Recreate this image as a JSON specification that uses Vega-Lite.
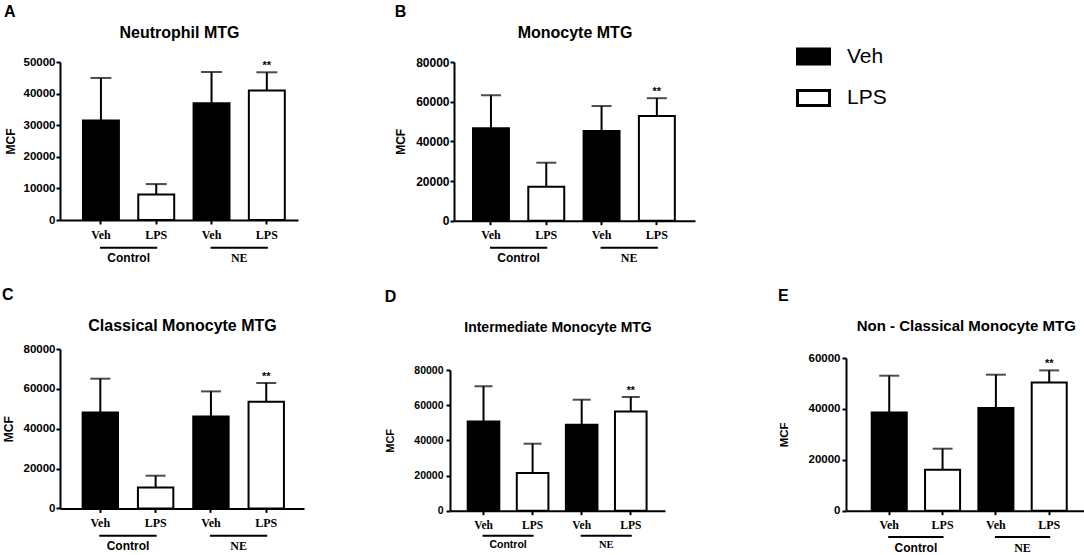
{
"$schema": "https://vega.github.io/schema/vega-lite/v6.json",
"background": "white",
"padding": {"left": 2, "top": 4, "right": 0, "bottom": 0},
"spacing": 23,
"resolve": {"scale": {"fill": "independent"}, "legend": {"fill": "independent"}},
"config": {"view": {"stroke": null}, "axis": {"grid": false}, "axisY": {"labelOverlap": false, "labelFlush": false, "labelBound": false}, "font": "Liberation Sans"},
"vconcat": [
{"hconcat": [
{
 "width": 238, "height": 158,
 "title": {"text": "A", "anchor": "start", "frame": "bounds", "font": "Liberation Sans", "fontSize": 16, "fontWeight": "bold", "color": "black", "offset": 4},
 "data": {"values": [
  {"cond": "Veh_C", "treat": "Veh", "group": "Control", "pair": "LPS_C", "mean": 31500, "upper": 44950, "sig": ""},
  {"cond": "LPS_C", "treat": "LPS", "group": "Control", "pair": "", "mean": 8100, "upper": 11370, "sig": ""},
  {"cond": "Veh_NE", "treat": "Veh", "group": "NE", "pair": "LPS_NE", "mean": 36950, "upper": 46840, "sig": ""},
  {"cond": "LPS_NE", "treat": "LPS", "group": "NE", "pair": "", "mean": 40960, "upper": 46740, "sig": "**"}
 ]},
 "layer": [
  {
   "encoding": {
    "x": {"field": "cond", "type": "nominal", "scale": {"domain": ["Veh_C", "LPS_C", "Veh_NE", "LPS_NE"], "paddingInner": 0.35, "paddingOuter": 0.327, "align": 0.635},
      "axis": {"title": null, "labelExpr": "split(datum.value, '_')[0]", "labelAngle": 0, "labelFont": "Liberation Serif", "labelFontWeight": "bold", "labelFontSize": 12, "labelColor": "black", "labelPadding": 5, "tickSize": 4, "tickWidth": 2, "tickColor": "black", "domainColor": "black", "domainWidth": 2}},
    "y": {"field": "mean", "type": "quantitative", "scale": {"domain": [0, 50000], "nice": false},
      "axis": {"title": "MCF", "values": [0, 10000, 20000, 30000, 40000, 50000], "format": "d", "titleFont": "Liberation Sans", "titleFontSize": 12, "titleFontWeight": "bold", "titleColor": "black", "titlePadding": 6, "labelFont": "Liberation Sans", "labelFontSize": 11.5, "labelFontWeight": "bold", "labelColor": "black", "labelPadding": 1, "tickSize": 4, "tickWidth": 2, "tickColor": "black", "domainColor": "black", "domainWidth": 2}}
   },
   "layer": [
    {"mark": {"type": "rule", "color": "black", "strokeWidth": 2}, "encoding": {"y2": {"field": "upper"}}},
    {"mark": {"type": "bar", "stroke": "black", "strokeWidth": 2}, "encoding": {"fill": {"field": "treat", "type": "nominal", "scale": {"domain": ["Veh", "LPS"], "range": ["black", "white"]}, "legend": null}}},
    {"mark": {"type": "tick", "color": "black", "thickness": 2, "size": 21}, "encoding": {"y": {"field": "upper", "type": "quantitative", "scale": {"domain": [0, 50000], "nice": false},
      "axis": {"title": "MCF", "values": [0, 10000, 20000, 30000, 40000, 50000], "format": "d", "titleFont": "Liberation Sans", "titleFontSize": 12, "titleFontWeight": "bold", "titleColor": "black", "titlePadding": 6, "labelFont": "Liberation Sans", "labelFontSize": 11.5, "labelFontWeight": "bold", "labelColor": "black", "labelPadding": 1, "tickSize": 4, "tickWidth": 2, "tickColor": "black", "domainColor": "black", "domainWidth": 2}}}},
    {"mark": {"type": "text", "font": "Liberation Sans", "fontWeight": "bold", "fontSize": 11, "baseline": "alphabetic", "dy": -3, "color": "black"}, "encoding": {"text": {"field": "sig"}, "y": {"field": "upper", "type": "quantitative", "scale": {"domain": [0, 50000], "nice": false},
      "axis": {"title": "MCF", "values": [0, 10000, 20000, 30000, 40000, 50000], "format": "d", "titleFont": "Liberation Sans", "titleFontSize": 12, "titleFontWeight": "bold", "titleColor": "black", "titlePadding": 6, "labelFont": "Liberation Sans", "labelFontSize": 11.5, "labelFontWeight": "bold", "labelColor": "black", "labelPadding": 1, "tickSize": 4, "tickWidth": 2, "tickColor": "black", "domainColor": "black", "domainWidth": 2}}}},
    {"transform": [{"filter": "datum.treat == 'Veh'"}], "mark": {"type": "rule", "color": "black", "strokeWidth": 2, "strokeCap": "square"}, "encoding": {"x2": {"field": "pair"}, "y": {"datum": -8750, "type": "quantitative", "scale": {"domain": [0, 50000], "nice": false},
      "axis": {"title": "MCF", "values": [0, 10000, 20000, 30000, 40000, 50000], "format": "d", "titleFont": "Liberation Sans", "titleFontSize": 12, "titleFontWeight": "bold", "titleColor": "black", "titlePadding": 6, "labelFont": "Liberation Sans", "labelFontSize": 11.5, "labelFontWeight": "bold", "labelColor": "black", "labelPadding": 1, "tickSize": 4, "tickWidth": 2, "tickColor": "black", "domainColor": "black", "domainWidth": 2}}}}
   ]
  },
  {
   "transform": [{"filter": "datum.treat == 'Veh'"}],
   "encoding": {
    "x": {"field": "group", "type": "nominal", "scale": {"type": "point", "domain": ["Control", "NE"], "padding": 0.576, "align": 0.539},
      "axis": {"orient": "top", "title": "Neutrophil MTG", "labels": false, "ticks": false, "domain": false, "titleFont": "Liberation Sans", "titleFontSize": 16, "titleFontWeight": "bold", "titleColor": "black", "titlePadding": 22, "minExtent": 0}},
    "y": {"datum": -11910, "type": "quantitative", "scale": {"domain": [0, 50000], "nice": false},
      "axis": {"title": "MCF", "values": [0, 10000, 20000, 30000, 40000, 50000], "format": "d", "titleFont": "Liberation Sans", "titleFontSize": 12, "titleFontWeight": "bold", "titleColor": "black", "titlePadding": 6, "labelFont": "Liberation Sans", "labelFontSize": 11.5, "labelFontWeight": "bold", "labelColor": "black", "labelPadding": 1, "tickSize": 4, "tickWidth": 2, "tickColor": "black", "domainColor": "black", "domainWidth": 2}},
    "text": {"field": "group"}
   },
   "layer": [
    {"transform": [{"filter": "datum.group == 'Control'"}], "mark": {"type": "text", "font": "Liberation Sans", "fontWeight": "bold", "fontSize": 12, "color": "black", "baseline": "middle"}},
    {"transform": [{"filter": "datum.group == 'NE'"}], "mark": {"type": "text", "font": "Liberation Serif", "fontWeight": "bold", "fontSize": 12, "color": "black", "baseline": "middle"}}
   ]
  }
 ],
 "resolve": {"scale": {"x": "independent"}}
},
{
 "width": 241, "height": 158.7,
 "title": {"text": "B", "anchor": "start", "frame": "bounds", "font": "Liberation Sans", "fontSize": 16, "fontWeight": "bold", "color": "black", "offset": 4},
 "data": {"values": [
  {"cond": "Veh_C", "treat": "Veh", "group": "Control", "pair": "LPS_C", "mean": 46580, "upper": 63200, "sig": ""},
  {"cond": "LPS_C", "treat": "LPS", "group": "Control", "pair": "", "mean": 17140, "upper": 29240, "sig": ""},
  {"cond": "Veh_NE", "treat": "Veh", "group": "NE", "pair": "LPS_NE", "mean": 45200, "upper": 57800, "sig": ""},
  {"cond": "LPS_NE", "treat": "LPS", "group": "NE", "pair": "", "mean": 52780, "upper": 61760, "sig": "**"}
 ]},
 "layer": [
  {
   "encoding": {
    "x": {"field": "cond", "type": "nominal", "scale": {"domain": ["Veh_C", "LPS_C", "Veh_NE", "LPS_NE"], "paddingInner": 0.35, "paddingOuter": 0.354, "align": 0.485},
      "axis": {"title": null, "labelExpr": "split(datum.value, '_')[0]", "labelAngle": 0, "labelFont": "Liberation Serif", "labelFontWeight": "bold", "labelFontSize": 12, "labelColor": "black", "labelPadding": 5, "tickSize": 4, "tickWidth": 2, "tickColor": "black", "domainColor": "black", "domainWidth": 2}},
    "y": {"field": "mean", "type": "quantitative", "scale": {"domain": [0, 80000], "nice": false},
      "axis": {"title": "MCF", "values": [0, 20000, 40000, 60000, 80000], "format": "d", "titleFont": "Liberation Sans", "titleFontSize": 12, "titleFontWeight": "bold", "titleColor": "black", "titlePadding": 8, "labelFont": "Liberation Sans", "labelFontSize": 12, "labelFontWeight": "bold", "labelColor": "black", "labelPadding": 1, "tickSize": 4, "tickWidth": 2, "tickColor": "black", "domainColor": "black", "domainWidth": 2}}
   },
   "layer": [
    {"mark": {"type": "rule", "color": "black", "strokeWidth": 2}, "encoding": {"y2": {"field": "upper"}}},
    {"mark": {"type": "bar", "stroke": "black", "strokeWidth": 2}, "encoding": {"fill": {"field": "treat", "type": "nominal", "scale": {"domain": ["Veh", "LPS"], "range": ["black", "white"]},
      "legend": {"orient": "none", "legendX": 342, "legendY": -23, "title": null, "symbolType": "M-1,-0.47H1V0.47H-1Z", "symbolSize": 1024, "symbolStrokeColor": "black", "symbolStrokeWidth": 3, "labelFont": "Liberation Sans", "labelFontSize": 21, "labelColor": "black", "labelOffset": 16, "rowPadding": 9.5}}}},
    {"mark": {"type": "tick", "color": "black", "thickness": 2, "size": 20}, "encoding": {"y": {"field": "upper", "type": "quantitative", "scale": {"domain": [0, 80000], "nice": false},
      "axis": {"title": "MCF", "values": [0, 20000, 40000, 60000, 80000], "format": "d", "titleFont": "Liberation Sans", "titleFontSize": 12, "titleFontWeight": "bold", "titleColor": "black", "titlePadding": 8, "labelFont": "Liberation Sans", "labelFontSize": 12, "labelFontWeight": "bold", "labelColor": "black", "labelPadding": 1, "tickSize": 4, "tickWidth": 2, "tickColor": "black", "domainColor": "black", "domainWidth": 2}}}},
    {"mark": {"type": "text", "font": "Liberation Sans", "fontWeight": "bold", "fontSize": 11, "baseline": "alphabetic", "dy": -3, "color": "black"}, "encoding": {"text": {"field": "sig"}, "y": {"field": "upper", "type": "quantitative", "scale": {"domain": [0, 80000], "nice": false},
      "axis": {"title": "MCF", "values": [0, 20000, 40000, 60000, 80000], "format": "d", "titleFont": "Liberation Sans", "titleFontSize": 12, "titleFontWeight": "bold", "titleColor": "black", "titlePadding": 8, "labelFont": "Liberation Sans", "labelFontSize": 12, "labelFontWeight": "bold", "labelColor": "black", "labelPadding": 1, "tickSize": 4, "tickWidth": 2, "tickColor": "black", "domainColor": "black", "domainWidth": 2}}}},
    {"transform": [{"filter": "datum.treat == 'Veh'"}], "mark": {"type": "rule", "color": "black", "strokeWidth": 2, "strokeCap": "square"}, "encoding": {"x2": {"field": "pair"}, "y": {"datum": -13610, "type": "quantitative", "scale": {"domain": [0, 80000], "nice": false},
      "axis": {"title": "MCF", "values": [0, 20000, 40000, 60000, 80000], "format": "d", "titleFont": "Liberation Sans", "titleFontSize": 12, "titleFontWeight": "bold", "titleColor": "black", "titlePadding": 8, "labelFont": "Liberation Sans", "labelFontSize": 12, "labelFontWeight": "bold", "labelColor": "black", "labelPadding": 1, "tickSize": 4, "tickWidth": 2, "tickColor": "black", "domainColor": "black", "domainWidth": 2}}}}
   ]
  },
  {
   "transform": [{"filter": "datum.treat == 'Veh'"}],
   "encoding": {
    "x": {"field": "group", "type": "nominal", "scale": {"type": "point", "domain": ["Control", "NE"], "padding": 0.59, "align": 0.495},
      "axis": {"orient": "top", "title": "Monocyte MTG", "labels": false, "ticks": false, "domain": false, "titleFont": "Liberation Sans", "titleFontSize": 16, "titleFontWeight": "bold", "titleColor": "black", "titlePadding": 22, "minExtent": 0}},
    "y": {"datum": -18650, "type": "quantitative", "scale": {"domain": [0, 80000], "nice": false},
      "axis": {"title": "MCF", "values": [0, 20000, 40000, 60000, 80000], "format": "d", "titleFont": "Liberation Sans", "titleFontSize": 12, "titleFontWeight": "bold", "titleColor": "black", "titlePadding": 8, "labelFont": "Liberation Sans", "labelFontSize": 12, "labelFontWeight": "bold", "labelColor": "black", "labelPadding": 1, "tickSize": 4, "tickWidth": 2, "tickColor": "black", "domainColor": "black", "domainWidth": 2}},
    "text": {"field": "group"}
   },
   "layer": [
    {"transform": [{"filter": "datum.group == 'Control'"}], "mark": {"type": "text", "font": "Liberation Sans", "fontWeight": "bold", "fontSize": 12, "color": "black", "baseline": "middle"}},
    {"transform": [{"filter": "datum.group == 'NE'"}], "mark": {"type": "text", "font": "Liberation Serif", "fontWeight": "bold", "fontSize": 12, "color": "black", "baseline": "middle"}}
   ]
  }
 ],
 "resolve": {"scale": {"x": "independent"}}
}
], "spacing": 96, "resolve": {"scale": {"fill": "independent"}, "legend": {"fill": "independent"}}},
{"hconcat": [
{"hconcat": [
{
 "width": 244, "height": 159.4,
 "title": {"text": "C", "anchor": "start", "frame": "bounds", "font": "Liberation Sans", "fontSize": 16, "fontWeight": "bold", "color": "black", "offset": 14},
 "data": {"values": [
  {"cond": "Veh_C", "treat": "Veh", "group": "Control", "pair": "LPS_C", "mean": 48180, "upper": 65100, "sig": ""},
  {"cond": "LPS_C", "treat": "LPS", "group": "Control", "pair": "", "mean": 10540, "upper": 16410, "sig": ""},
  {"cond": "Veh_NE", "treat": "Veh", "group": "NE", "pair": "LPS_NE", "mean": 46170, "upper": 58730, "sig": ""},
  {"cond": "LPS_NE", "treat": "LPS", "group": "NE", "pair": "", "mean": 53550, "upper": 62930, "sig": "**"}
 ]},
 "layer": [
  {
   "encoding": {
    "x": {"field": "cond", "type": "nominal", "scale": {"domain": ["Veh_C", "LPS_C", "Veh_NE", "LPS_NE"], "paddingInner": 0.36, "paddingOuter": 0.386, "align": 0.53},
      "axis": {"title": null, "labelExpr": "split(datum.value, '_')[0]", "labelAngle": 0, "labelFont": "Liberation Serif", "labelFontWeight": "bold", "labelFontSize": 12, "labelColor": "black", "labelPadding": 5, "tickSize": 4, "tickWidth": 2, "tickColor": "black", "domainColor": "black", "domainWidth": 2}},
    "y": {"field": "mean", "type": "quantitative", "scale": {"domain": [0, 80000], "nice": false},
      "axis": {"title": "MCF", "values": [0, 20000, 40000, 60000, 80000], "format": "d", "titleFont": "Liberation Sans", "titleFontSize": 12, "titleFontWeight": "bold", "titleColor": "black", "titlePadding": 8, "labelFont": "Liberation Sans", "labelFontSize": 11.5, "labelFontWeight": "bold", "labelColor": "black", "labelPadding": 1, "tickSize": 4, "tickWidth": 2, "tickColor": "black", "domainColor": "black", "domainWidth": 2}}
   },
   "layer": [
    {"mark": {"type": "rule", "color": "black", "strokeWidth": 2}, "encoding": {"y2": {"field": "upper"}}},
    {"mark": {"type": "bar", "stroke": "black", "strokeWidth": 2}, "encoding": {"fill": {"field": "treat", "type": "nominal", "scale": {"domain": ["Veh", "LPS"], "range": ["black", "white"]}, "legend": null}}},
    {"mark": {"type": "tick", "color": "black", "thickness": 2, "size": 20}, "encoding": {"y": {"field": "upper", "type": "quantitative", "scale": {"domain": [0, 80000], "nice": false},
      "axis": {"title": "MCF", "values": [0, 20000, 40000, 60000, 80000], "format": "d", "titleFont": "Liberation Sans", "titleFontSize": 12, "titleFontWeight": "bold", "titleColor": "black", "titlePadding": 8, "labelFont": "Liberation Sans", "labelFontSize": 11.5, "labelFontWeight": "bold", "labelColor": "black", "labelPadding": 1, "tickSize": 4, "tickWidth": 2, "tickColor": "black", "domainColor": "black", "domainWidth": 2}}}},
    {"mark": {"type": "text", "font": "Liberation Sans", "fontWeight": "bold", "fontSize": 11, "baseline": "alphabetic", "dy": -3, "color": "black"}, "encoding": {"text": {"field": "sig"}, "y": {"field": "upper", "type": "quantitative", "scale": {"domain": [0, 80000], "nice": false},
      "axis": {"title": "MCF", "values": [0, 20000, 40000, 60000, 80000], "format": "d", "titleFont": "Liberation Sans", "titleFontSize": 12, "titleFontWeight": "bold", "titleColor": "black", "titlePadding": 8, "labelFont": "Liberation Sans", "labelFontSize": 11.5, "labelFontWeight": "bold", "labelColor": "black", "labelPadding": 1, "tickSize": 4, "tickWidth": 2, "tickColor": "black", "domainColor": "black", "domainWidth": 2}}}},
    {"transform": [{"filter": "datum.treat == 'Veh'"}], "mark": {"type": "rule", "color": "black", "strokeWidth": 2, "strokeCap": "square"}, "encoding": {"x2": {"field": "pair"}, "y": {"datum": -13700, "type": "quantitative", "scale": {"domain": [0, 80000], "nice": false},
      "axis": {"title": "MCF", "values": [0, 20000, 40000, 60000, 80000], "format": "d", "titleFont": "Liberation Sans", "titleFontSize": 12, "titleFontWeight": "bold", "titleColor": "black", "titlePadding": 8, "labelFont": "Liberation Sans", "labelFontSize": 11.5, "labelFontWeight": "bold", "labelColor": "black", "labelPadding": 1, "tickSize": 4, "tickWidth": 2, "tickColor": "black", "domainColor": "black", "domainWidth": 2}}}}
   ]
  },
  {
   "transform": [{"filter": "datum.treat == 'Veh'"}],
   "encoding": {
    "x": {"field": "group", "type": "nominal", "scale": {"type": "point", "domain": ["Control", "NE"], "padding": 0.603, "align": 0.51},
      "axis": {"orient": "top", "title": "Classical Monocyte MTG", "labels": false, "ticks": false, "domain": false, "titleFont": "Liberation Sans", "titleFontSize": 16, "titleFontWeight": "bold", "titleColor": "black", "titlePadding": 16, "minExtent": 0}},
    "y": {"datum": -19070, "type": "quantitative", "scale": {"domain": [0, 80000], "nice": false},
      "axis": {"title": "MCF", "values": [0, 20000, 40000, 60000, 80000], "format": "d", "titleFont": "Liberation Sans", "titleFontSize": 12, "titleFontWeight": "bold", "titleColor": "black", "titlePadding": 8, "labelFont": "Liberation Sans", "labelFontSize": 11.5, "labelFontWeight": "bold", "labelColor": "black", "labelPadding": 1, "tickSize": 4, "tickWidth": 2, "tickColor": "black", "domainColor": "black", "domainWidth": 2}},
    "text": {"field": "group"}
   },
   "layer": [
    {"transform": [{"filter": "datum.group == 'Control'"}], "mark": {"type": "text", "font": "Liberation Sans", "fontWeight": "bold", "fontSize": 12, "color": "black", "baseline": "middle"}},
    {"transform": [{"filter": "datum.group == 'NE'"}], "mark": {"type": "text", "font": "Liberation Serif", "fontWeight": "bold", "fontSize": 12, "color": "black", "baseline": "middle"}}
   ]
  }
 ],
 "resolve": {"scale": {"x": "independent"}}
},
{
 "width": 215, "height": 161.7,
 "title": {"text": "D", "anchor": "start", "frame": "bounds", "font": "Liberation Sans", "fontSize": 16, "fontWeight": "bold", "color": "black", "offset": 15},
 "data": {"values": [
  {"cond": "Veh_C", "treat": "Veh", "group": "Control", "pair": "LPS_C", "mean": 50780, "upper": 70690, "sig": ""},
  {"cond": "LPS_C", "treat": "LPS", "group": "Control", "pair": "", "mean": 21430, "upper": 38100, "sig": ""},
  {"cond": "Veh_NE", "treat": "Veh", "group": "NE", "pair": "LPS_NE", "mean": 48900, "upper": 63110, "sig": ""},
  {"cond": "LPS_NE", "treat": "LPS", "group": "NE", "pair": "", "mean": 56460, "upper": 64650, "sig": "**"}
 ]},
 "layer": [
  {
   "encoding": {
    "x": {"field": "cond", "type": "nominal", "scale": {"domain": ["Veh_C", "LPS_C", "Veh_NE", "LPS_NE"], "paddingInner": 0.356, "paddingOuter": 0.368, "align": 0.49},
      "axis": {"title": null, "labelExpr": "split(datum.value, '_')[0]", "labelAngle": 0, "labelFont": "Liberation Serif", "labelFontWeight": "bold", "labelFontSize": 11.5, "labelColor": "black", "labelPadding": 5, "tickSize": 4, "tickWidth": 2, "tickColor": "black", "domainColor": "black", "domainWidth": 2}},
    "y": {"field": "mean", "type": "quantitative", "scale": {"domain": [0, 80000], "nice": false, "range": [161.7, 21]},
      "axis": {"title": "MCF", "values": [0, 20000, 40000, 60000, 80000], "format": "d", "titleFont": "Liberation Sans", "titleFontSize": 11, "titleFontWeight": "bold", "titleColor": "black", "titlePadding": 18, "labelFont": "Liberation Sans", "labelFontSize": 10.5, "labelFontWeight": "bold", "labelColor": "black", "labelPadding": 3, "tickSize": 4, "tickWidth": 2, "tickColor": "black", "domainColor": "black", "domainWidth": 2}}
   },
   "layer": [
    {"mark": {"type": "rule", "color": "black", "strokeWidth": 2}, "encoding": {"y2": {"field": "upper"}}},
    {"mark": {"type": "bar", "stroke": "black", "strokeWidth": 2}, "encoding": {"fill": {"field": "treat", "type": "nominal", "scale": {"domain": ["Veh", "LPS"], "range": ["black", "white"]}, "legend": null}}},
    {"mark": {"type": "tick", "color": "black", "thickness": 2, "size": 18}, "encoding": {"y": {"field": "upper", "type": "quantitative", "scale": {"domain": [0, 80000], "nice": false, "range": [161.7, 21]},
      "axis": {"title": "MCF", "values": [0, 20000, 40000, 60000, 80000], "format": "d", "titleFont": "Liberation Sans", "titleFontSize": 11, "titleFontWeight": "bold", "titleColor": "black", "titlePadding": 18, "labelFont": "Liberation Sans", "labelFontSize": 10.5, "labelFontWeight": "bold", "labelColor": "black", "labelPadding": 3, "tickSize": 4, "tickWidth": 2, "tickColor": "black", "domainColor": "black", "domainWidth": 2}}}},
    {"mark": {"type": "text", "font": "Liberation Sans", "fontWeight": "bold", "fontSize": 10.5, "baseline": "alphabetic", "dy": -3, "color": "black"}, "encoding": {"text": {"field": "sig"}, "y": {"field": "upper", "type": "quantitative", "scale": {"domain": [0, 80000], "nice": false, "range": [161.7, 21]},
      "axis": {"title": "MCF", "values": [0, 20000, 40000, 60000, 80000], "format": "d", "titleFont": "Liberation Sans", "titleFontSize": 11, "titleFontWeight": "bold", "titleColor": "black", "titlePadding": 18, "labelFont": "Liberation Sans", "labelFontSize": 10.5, "labelFontWeight": "bold", "labelColor": "black", "labelPadding": 3, "tickSize": 4, "tickWidth": 2, "tickColor": "black", "domainColor": "black", "domainWidth": 2}}}},
    {"transform": [{"filter": "datum.treat == 'Veh'"}], "mark": {"type": "rule", "color": "black", "strokeWidth": 2, "strokeCap": "square"}, "encoding": {"x2": {"field": "pair"}, "y": {"datum": -14215, "type": "quantitative", "scale": {"domain": [0, 80000], "nice": false, "range": [161.7, 21]},
      "axis": {"title": "MCF", "values": [0, 20000, 40000, 60000, 80000], "format": "d", "titleFont": "Liberation Sans", "titleFontSize": 11, "titleFontWeight": "bold", "titleColor": "black", "titlePadding": 18, "labelFont": "Liberation Sans", "labelFontSize": 10.5, "labelFontWeight": "bold", "labelColor": "black", "labelPadding": 3, "tickSize": 4, "tickWidth": 2, "tickColor": "black", "domainColor": "black", "domainWidth": 2}}}}
   ]
  },
  {
   "transform": [{"filter": "datum.treat == 'Veh'"}],
   "encoding": {
    "x": {"field": "group", "type": "nominal", "scale": {"type": "point", "domain": ["Control", "NE"], "padding": 0.595, "align": 0.497},
      "axis": {"orient": "top", "title": "Intermediate Monocyte MTG", "labels": false, "ticks": false, "domain": false, "titleFont": "Liberation Sans", "titleFontSize": 14, "titleFontWeight": "bold", "titleColor": "black", "titlePadding": 15, "minExtent": 0}},
    "y": {"datum": -19330, "type": "quantitative", "scale": {"domain": [0, 80000], "nice": false, "range": [161.7, 21]},
      "axis": {"title": "MCF", "values": [0, 20000, 40000, 60000, 80000], "format": "d", "titleFont": "Liberation Sans", "titleFontSize": 11, "titleFontWeight": "bold", "titleColor": "black", "titlePadding": 18, "labelFont": "Liberation Sans", "labelFontSize": 10.5, "labelFontWeight": "bold", "labelColor": "black", "labelPadding": 3, "tickSize": 4, "tickWidth": 2, "tickColor": "black", "domainColor": "black", "domainWidth": 2}},
    "text": {"field": "group"}
   },
   "layer": [
    {"transform": [{"filter": "datum.group == 'Control'"}], "mark": {"type": "text", "font": "Liberation Sans", "fontWeight": "bold", "fontSize": 10.5, "color": "black", "baseline": "middle"}},
    {"transform": [{"filter": "datum.group == 'NE'"}], "mark": {"type": "text", "font": "Liberation Serif", "fontWeight": "bold", "fontSize": 10.5, "color": "black", "baseline": "middle"}}
   ]
  }
 ],
 "resolve": {"scale": {"x": "independent"}}
}
], "spacing": 80, "resolve": {"scale": {"fill": "independent"}, "legend": {"fill": "independent"}}},
{
 "width": 239.5, "height": 161.7,
 "title": {"text": "E", "anchor": "start", "frame": "bounds", "font": "Liberation Sans", "fontSize": 16, "fontWeight": "bold", "color": "black", "offset": 14},
 "data": {"values": [
  {"cond": "Veh_C", "treat": "Veh", "group": "Control", "pair": "LPS_C", "mean": 38630, "upper": 53050, "sig": ""},
  {"cond": "LPS_C", "treat": "LPS", "group": "Control", "pair": "", "mean": 16110, "upper": 24360, "sig": ""},
  {"cond": "Veh_NE", "treat": "Veh", "group": "NE", "pair": "LPS_NE", "mean": 40350, "upper": 53440, "sig": ""},
  {"cond": "LPS_NE", "treat": "LPS", "group": "NE", "pair": "", "mean": 50410, "upper": 55130, "sig": "**"}
 ]},
 "layer": [
  {
   "encoding": {
    "x": {"field": "cond", "type": "nominal", "scale": {"domain": ["Veh_C", "LPS_C", "Veh_NE", "LPS_NE"], "paddingInner": 0.343, "paddingOuter": 0.417, "align": 0.578},
      "axis": {"title": null, "labelExpr": "split(datum.value, '_')[0]", "labelAngle": 0, "labelFont": "Liberation Serif", "labelFontWeight": "bold", "labelFontSize": 12, "labelColor": "black", "labelPadding": 5, "tickSize": 4, "tickWidth": 2, "tickColor": "black", "domainColor": "black", "domainWidth": 2}},
    "y": {"field": "mean", "type": "quantitative", "scale": {"domain": [0, 60000], "nice": false, "range": [161.7, 9]},
      "axis": {"title": "MCF", "values": [0, 20000, 40000, 60000], "format": "d", "titleFont": "Liberation Sans", "titleFontSize": 11.5, "titleFontWeight": "bold", "titleColor": "black", "titlePadding": 19, "labelFont": "Liberation Sans", "labelFontSize": 11.5, "labelFontWeight": "bold", "labelColor": "black", "labelPadding": 2, "tickSize": 4, "tickWidth": 2, "tickColor": "black", "domainColor": "black", "domainWidth": 2}}
   },
   "layer": [
    {"mark": {"type": "rule", "color": "black", "strokeWidth": 2}, "encoding": {"y2": {"field": "upper"}}},
    {"mark": {"type": "bar", "stroke": "black", "strokeWidth": 2}, "encoding": {"fill": {"field": "treat", "type": "nominal", "scale": {"domain": ["Veh", "LPS"], "range": ["black", "white"]}, "legend": null}}},
    {"mark": {"type": "tick", "color": "black", "thickness": 2, "size": 20}, "encoding": {"y": {"field": "upper", "type": "quantitative", "scale": {"domain": [0, 60000], "nice": false, "range": [161.7, 9]},
      "axis": {"title": "MCF", "values": [0, 20000, 40000, 60000], "format": "d", "titleFont": "Liberation Sans", "titleFontSize": 11.5, "titleFontWeight": "bold", "titleColor": "black", "titlePadding": 19, "labelFont": "Liberation Sans", "labelFontSize": 11.5, "labelFontWeight": "bold", "labelColor": "black", "labelPadding": 2, "tickSize": 4, "tickWidth": 2, "tickColor": "black", "domainColor": "black", "domainWidth": 2}}}},
    {"mark": {"type": "text", "font": "Liberation Sans", "fontWeight": "bold", "fontSize": 11, "baseline": "alphabetic", "dy": -3, "color": "black"}, "encoding": {"text": {"field": "sig"}, "y": {"field": "upper", "type": "quantitative", "scale": {"domain": [0, 60000], "nice": false, "range": [161.7, 9]},
      "axis": {"title": "MCF", "values": [0, 20000, 40000, 60000], "format": "d", "titleFont": "Liberation Sans", "titleFontSize": 11.5, "titleFontWeight": "bold", "titleColor": "black", "titlePadding": 19, "labelFont": "Liberation Sans", "labelFontSize": 11.5, "labelFontWeight": "bold", "labelColor": "black", "labelPadding": 2, "tickSize": 4, "tickWidth": 2, "tickColor": "black", "domainColor": "black", "domainWidth": 2}}}},
    {"transform": [{"filter": "datum.treat == 'Veh'"}], "mark": {"type": "rule", "color": "black", "strokeWidth": 2, "strokeCap": "square"}, "encoding": {"x2": {"field": "pair"}, "y": {"datum": -10330, "type": "quantitative", "scale": {"domain": [0, 60000], "nice": false, "range": [161.7, 9]},
      "axis": {"title": "MCF", "values": [0, 20000, 40000, 60000], "format": "d", "titleFont": "Liberation Sans", "titleFontSize": 11.5, "titleFontWeight": "bold", "titleColor": "black", "titlePadding": 19, "labelFont": "Liberation Sans", "labelFontSize": 11.5, "labelFontWeight": "bold", "labelColor": "black", "labelPadding": 2, "tickSize": 4, "tickWidth": 2, "tickColor": "black", "domainColor": "black", "domainWidth": 2}}}}
   ]
  },
  {
   "transform": [{"filter": "datum.treat == 'Veh'"}],
   "encoding": {
    "x": {"field": "group", "type": "nominal", "scale": {"type": "point", "domain": ["Control", "NE"], "padding": 0.623, "align": 0.526},
      "axis": {"orient": "top", "title": "Non - Classical Monocyte MTG", "labels": false, "ticks": false, "domain": false, "titleFont": "Liberation Sans", "titleFontSize": 15, "titleFontWeight": "bold", "titleColor": "black", "titlePadding": 16, "minExtent": 0}},
    "y": {"datum": -14660, "type": "quantitative", "scale": {"domain": [0, 60000], "nice": false, "range": [161.7, 9]},
      "axis": {"title": "MCF", "values": [0, 20000, 40000, 60000], "format": "d", "titleFont": "Liberation Sans", "titleFontSize": 11.5, "titleFontWeight": "bold", "titleColor": "black", "titlePadding": 19, "labelFont": "Liberation Sans", "labelFontSize": 11.5, "labelFontWeight": "bold", "labelColor": "black", "labelPadding": 2, "tickSize": 4, "tickWidth": 2, "tickColor": "black", "domainColor": "black", "domainWidth": 2}},
    "text": {"field": "group"}
   },
   "layer": [
    {"transform": [{"filter": "datum.group == 'Control'"}], "mark": {"type": "text", "font": "Liberation Sans", "fontWeight": "bold", "fontSize": 12, "color": "black", "baseline": "middle"}},
    {"transform": [{"filter": "datum.group == 'NE'"}], "mark": {"type": "text", "font": "Liberation Serif", "fontWeight": "bold", "fontSize": 12, "color": "black", "baseline": "middle"}}
   ]
  }
 ],
 "resolve": {"scale": {"x": "independent"}}
}
], "spacing": 113, "resolve": {"scale": {"fill": "independent"}, "legend": {"fill": "independent"}}}
]
}
